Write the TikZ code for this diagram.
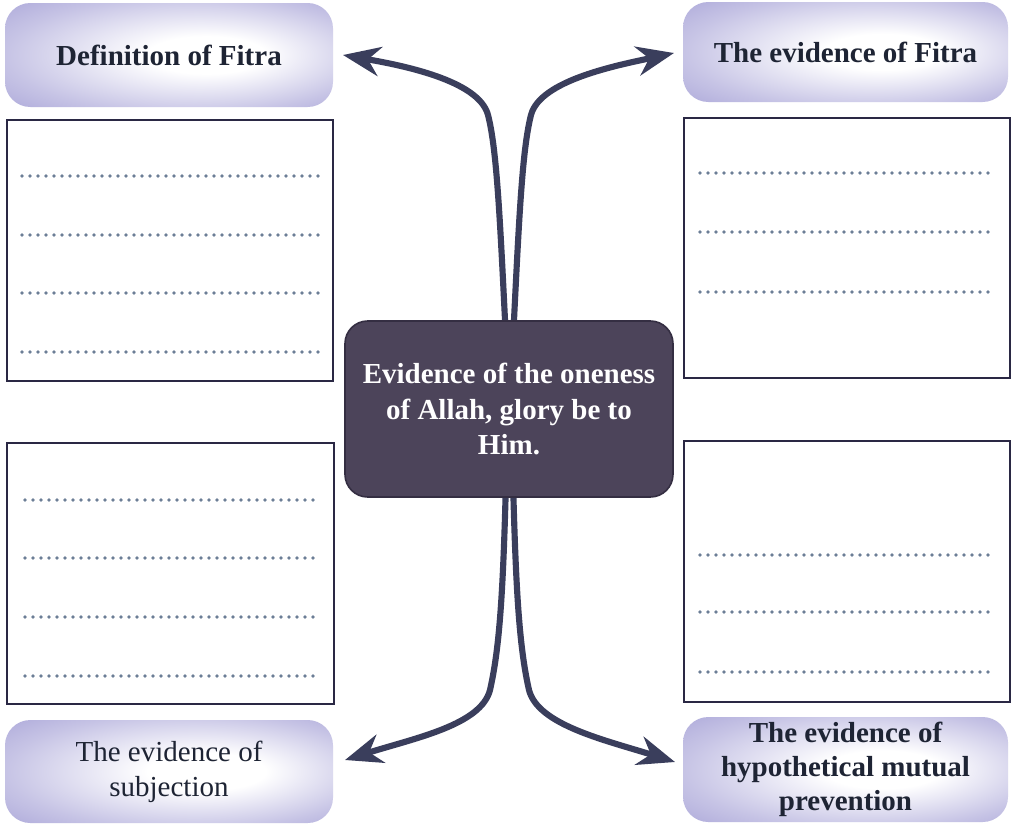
\documentclass[tikz,border=0pt]{standalone}
\usepackage{fontspec}
\setmainfont{Liberation Serif}
\usetikzlibrary{arrows.meta,calc}

\definecolor{lav}{RGB}{152,147,208}
\definecolor{hdrtext}{RGB}{30,36,52}
\definecolor{hubfill}{RGB}{76,68,90}
\definecolor{hubedge}{RGB}{52,46,66}
\definecolor{boxedge}{RGB}{42,40,68}
\definecolor{dotc}{RGB}{108,126,150}
\definecolor{arrowc}{RGB}{58,62,92}

% lavender rim fading to a white middle
\pgfdeclareradialshading{hdrshade}{\pgfpoint{7bp}{0bp}}{%
  color(0bp)=(white); color(9bp)=(white); color(28bp)=(lav!55);
  color(42bp)=(lav!90); color(50bp)=(lav)}

\begin{document}
\begin{tikzpicture}[x=0.75pt,y=-0.75pt,
  hdr/.style={rectangle, rounded corners=19pt, shading=hdrshade, inner sep=0pt,
    text=hdrtext, align=center, font=\fontsize{21.75}{26.25}\selectfont},
  hdrbold/.style={hdr, font=\fontsize{21.75}{25.5}\selectfont\bfseries},
  notebox/.style={rectangle, draw=boxedge, line width=1.9pt, fill=white, inner sep=0pt},
  dotline/.style={dotc, line width=2.9pt, line cap=round, dash pattern=on 0pt off 6pt},
  hubbox/.style={rectangle, rounded corners=17pt, fill=hubfill, draw=hubedge,
    line width=1.2pt, text=white, align=center,
    font=\fontsize{21.75}{26.6}\selectfont\bfseries,
    minimum width=246pt, minimum height=132pt},
  link/.style={arrowc, line width=4.6pt,
    -{Stealth[length=28pt,width=22pt,inset=9pt]}}
]
\useasboundingbox[fill=white] (0,0) rectangle (1016,825);

% headings
\node[hdrbold, minimum width=246pt, minimum height=78pt] (defn) at (169,55) {Definition of Fitra};
\node[hdrbold, minimum width=243.75pt, minimum height=75pt] (evid) at (845.5,52) {The evidence of Fitra};
\node[hdr, minimum width=246pt, minimum height=77.25pt] (subj) at (169,771.5) {The evidence of\\subjection};
\node[hdrbold, minimum width=243.75pt, minimum height=78.75pt] (prev) at (845.5,769.5) {The evidence of\\hypothetical mutual\\prevention};

% writing boxes
\node[notebox, minimum width=244.5pt, minimum height=195.75pt] (boxtl) at (170,250.5) {};
\node[notebox, minimum width=244.5pt, minimum height=195pt] (boxtr) at (847,248) {};
\node[notebox, minimum width=245.25pt, minimum height=195.75pt] (boxbl) at (170.5,573.5) {};
\node[notebox, minimum width=244.5pt, minimum height=195.75pt] (boxbr) at (847,571.5) {};

% dotted writing lines
\foreach \yy in {176,235,293,352} \draw[dotline] (22,\yy) -- (318,\yy);
\foreach \yy in {173,232,292} \draw[dotline] (700,\yy) -- (994,\yy);
\foreach \yy in {500,558,617,676} \draw[dotline] (25,\yy) -- (318,\yy);
\foreach \yy in {555,612,672} \draw[dotline] (700,\yy) -- (994,\yy);

% connector anchors
\coordinate (tlA) at (506,340);
\coordinate (tlB) at (488,115);
\coordinate (tlTip) at (343,55);
\coordinate (trA) at (513,340);
\coordinate (trB) at (531,115);
\coordinate (trTip) at (674,53);
\coordinate (blA) at (506,480);
\coordinate (blB) at (490,690);
\coordinate (blTip) at (345,760);
\coordinate (brA) at (513,480);
\coordinate (brB) at (529,690);
\coordinate (brTip) at (675,762);

% arrows from the centre out to the headings
\draw[link] (tlA) .. controls (500,220) and (497,150) .. (tlB) .. controls (479,80) and (400,65) .. (tlTip);
\draw[link] (trA) .. controls (519,220) and (522,150) .. (trB) .. controls (540,80) and (619,65) .. (trTip);
\draw[link] (blA) .. controls (503,600) and (499,650) .. (blB) .. controls (481,725) and (415,738) .. (blTip);
\draw[link] (brA) .. controls (516,600) and (520,650) .. (brB) .. controls (538,725) and (605,740) .. (brTip);

% central statement
\node[hubbox] (hub) at (509,409) {Evidence of the oneness\\of Allah, glory be to\\Him.};
\end{tikzpicture}
\end{document}
